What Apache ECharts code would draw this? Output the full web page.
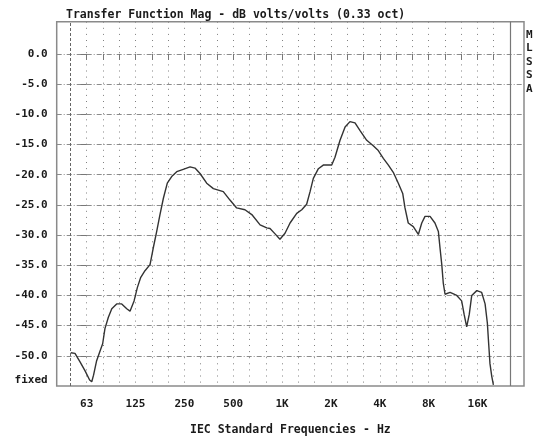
<!DOCTYPE html>
<html>
<head>
<meta charset="utf-8">
<script src="https://cdn.jsdelivr.net/npm/echarts@6/dist/echarts.min.js"></script>
<style>
html,body{margin:0;padding:0;background:#fff;}
#c{width:534px;height:441px;}
</style>
</head>
<body>
<div id="c"></div>
<script>
// x = position in 1/3-octave bands relative to 63 Hz (63 Hz = 0, 125 Hz = 3, 1 kHz = 12 ...)
var bandPos = [-0.98,-0.72,-0.41,-0.10,0.18,0.31,0.42,0.61,0.82,0.98,1.12,1.33,1.54,1.84,2.15,2.46,2.66,2.91,3.11,3.32,3.58,3.89,4.09,4.30,4.50,4.71,4.95,5.22,5.53,5.93,6.35,6.65,6.96,7.37,7.78,8.39,8.80,9.21,9.72,10.14,10.65,11.06,11.26,11.57,11.87,12.18,12.49,12.90,13.21,13.51,13.72,13.92,14.23,14.53,15.05,15.25,15.56,15.87,16.17,16.48,16.79,17.20,17.60,17.91,18.22,18.53,18.83,19.14,19.41,19.55,19.75,20.06,20.37,20.58,20.78,21.09,21.39,21.60,21.70,21.81,21.90,22.01,22.32,22.73,23.03,23.18,23.34,23.50,23.65,23.96,24.26,24.47,24.61,24.69,24.77,24.88,24.98];
var magDB = [-49.5,-49.6,-51.0,-52.5,-54.0,-54.3,-53.2,-50.8,-49.2,-48.0,-45.5,-43.6,-42.2,-41.4,-41.4,-42.2,-42.6,-40.9,-38.7,-37.0,-35.9,-34.9,-32.1,-29.4,-26.6,-23.9,-21.4,-20.3,-19.5,-19.1,-18.7,-18.9,-19.8,-21.4,-22.3,-22.8,-24.2,-25.5,-25.8,-26.6,-28.3,-28.8,-28.9,-29.8,-30.7,-29.7,-28.0,-26.4,-25.8,-24.9,-22.8,-20.6,-19.0,-18.4,-18.4,-17.1,-14.3,-12.1,-11.2,-11.4,-12.7,-14.3,-15.2,-16.0,-17.3,-18.4,-19.6,-21.4,-23.1,-25.5,-28.0,-28.6,-29.9,-28.0,-26.9,-26.9,-28.0,-29.4,-32.1,-34.9,-37.9,-39.8,-39.5,-40.0,-40.9,-43.1,-45.2,-43.1,-40.0,-39.2,-39.5,-41.4,-44.6,-48.0,-51.3,-53.4,-54.8];

var xTickPos = [0,1,2,3,4,5,6,7,8,9,10,11,12,13,14,15,16,17,18,19,20,21,22,23,24,25,26];
var xLabelPos = [0,3,6,9,12,15,18,21,24];
var xLabelText = ['63','125','250','500','1K','2K','4K','8K','16K'];
var yTickVals = [0,-5,-10,-15,-20,-25,-30,-35,-40,-45,-50];
var yLabelVals = [0,-5,-10,-15,-20,-25,-30,-35,-40,-45,-50,-55];
var yBottomLabel = 'fixed';
var edgeLines = [-1, 26];

var FONT = 'DejaVu Sans Mono';
var chart = echarts.init(document.getElementById('c'), null, {renderer:'canvas'});
var pts = bandPos.map(function(x,i){return [x, magDB[i]];});

chart.setOption({
  animation:false,
  backgroundColor:'#fff',
  title:{
    text:'Transfer Function Mag - dB volts/volts (0.33 oct)',
    left:61, top:4,
    textStyle:{fontFamily:FONT, fontWeight:'bold', fontSize:11.5, color:'#1a1a1a'}
  },
  graphic:[{
    type:'text', left:526, top:28,
    style:{text:'M\nL\nS\nS\nA', font:'bold 11px "DejaVu Sans Mono"', fill:'#1a1a1a', lineHeight:13.5}
  }],
  grid:{left:56.7, right:10, top:21.7, bottom:52, show:true, borderColor:'#8a8a8a', borderWidth:1.5, backgroundColor:'transparent'},
  xAxis:{
    type:'value', min:-1.843, max:26.86,
    name:'IEC Standard Frequencies - Hz', nameLocation:'middle', nameGap:38,
    nameTextStyle:{fontFamily:FONT, fontWeight:'bold', fontSize:11.5, color:'#1a1a1a'},
    axisLine:{show:false},
    axisTick:{show:true, customValues:xTickPos, length:6, lineStyle:{color:'#777', width:1}},
    axisLabel:{customValues:xLabelPos, margin:13, fontFamily:FONT, fontWeight:'bold', fontSize:11, color:'#1a1a1a',
      formatter:function(v){var k=xLabelPos.indexOf(Math.round(v)); return k>=0?xLabelText[k]:'';}},
    splitLine:{show:true, lineStyle:{type:[1,5.1], color:'#808080', width:1}}
  },
  yAxis:{
    type:'value', min:-55, max:5.35,
    axisLine:{show:false},
    axisTick:{show:true, customValues:yTickVals, length:6, lineStyle:{color:'#777', width:1}},
    axisLabel:{customValues:yLabelVals, margin:9, fontFamily:FONT, fontWeight:'bold', fontSize:11, color:'#1a1a1a',
      formatter:function(v){ return v===-55 ? '{f|'+yBottomLabel+'}' : v.toFixed(1); },
      rich:{f:{fontFamily:FONT, fontWeight:'bold', fontSize:11, color:'#1a1a1a', padding:[0,0,12,0]}}},
    splitLine:{show:true, lineStyle:{type:[5,2,1,2], color:'#8c8c8c', width:1}}
  },
  series:[{
    type:'line', data:pts, showSymbol:false, smooth:false, clip:true,
    lineStyle:{color:'#333', width:1.4},
    markLine:{
      silent:true, symbol:'none', label:{show:false},
      data:[
        {xAxis:edgeLines[0], lineStyle:{type:[3,2], color:'#666', width:1}},
        {xAxis:edgeLines[1], lineStyle:{type:'solid', color:'#777', width:1.2}}
      ]
    }
  }]
});
</script>
</body>
</html>
